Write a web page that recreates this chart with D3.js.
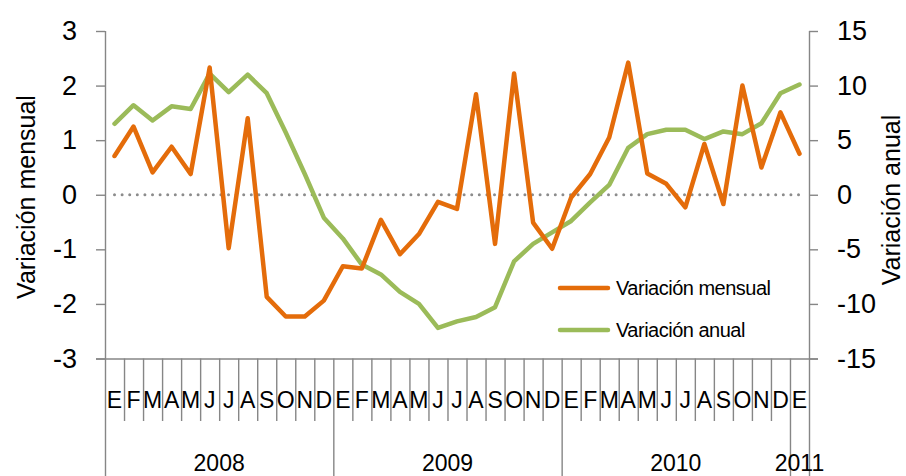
<!DOCTYPE html>
<html>
<head>
<meta charset="utf-8">
<script src="https://cdn.jsdelivr.net/npm/d3@7"></script>
<style>
  body { margin: 0; background: #fff; }
  svg { display: block; font-family: "Liberation Sans", Arial, sans-serif; }
</style>
</head>
<body>
<svg width="906" height="476"></svg>
<script>
// month initials, years and the two series (Jan 2008 - Jan 2011)
const monthLabels = ["E","F","M","A","M","J","J","A","S","O","N","D",
                     "E","F","M","A","M","J","J","A","S","O","N","D",
                     "E","F","M","A","M","J","J","A","S","O","N","D","E"];
const years = [
  {label: "2008", from: 0, to: 11},
  {label: "2009", from: 12, to: 23},
  {label: "2010", from: 24, to: 35},
  {label: "2011", from: 36, to: 36}
];
const mensual = [0.71, 1.25, 0.41, 0.88, 0.38, 2.33, -0.98, 1.40, -1.87, -2.23, -2.23, -1.94,
                 -1.31, -1.35, -0.46, -1.09, -0.72, -0.13, -0.26, 1.84, -0.90, 2.22, -0.51, -0.99,
                 -0.05, 0.38, 1.05, 2.42, 0.39, 0.20, -0.23, 0.93, -0.17, 2.00, 0.50, 1.51, 0.75];
const anual = [6.5, 8.2, 6.8, 8.1, 7.85, 11.1, 9.4, 11.0, 9.3, 5.7, 1.9, -2.1,
               -4.0, -6.4, -7.3, -8.9, -10.0, -12.2, -11.6, -11.2, -10.3, -6.1, -4.5, -3.45,
               -2.4, -0.7, 0.9, 4.3, 5.55, 5.95, 5.95, 5.1, 5.8, 5.55, 6.55, 9.3, 10.1];
const leftTicks = [-3, -2, -1, 0, 1, 2, 3];
const rightTicks = [-15, -10, -5, 0, 5, 10, 15];

const svg = d3.select("svg");
const axisColor = "#868686";
const orange = "#E46C0A";
const green = "#9BBB59";

const plotLeft = 105, plotRight = 809, plotTop = 31, plotBottom = 358.5;

const idx = d3.range(monthLabels.length);
const x = d3.scaleBand().domain(idx).range([plotLeft, plotRight]).padding(0);
const cx = i => x(i) + x.bandwidth() / 2;
const yL = d3.scaleLinear().domain([-3, 3]).range([plotBottom, plotTop]);
const yR = d3.scaleLinear().domain([-15, 15]).range([plotBottom, plotTop]);

/*y axes*/
const gL = svg.append("g").attr("transform", `translate(${plotLeft},0)`)
  .call(d3.axisLeft(yL).tickValues(leftTicks).tickFormat(d => String(d))
    .tickSize(9).tickPadding(19).tickSizeOuter(0));
const gR = svg.append("g").attr("transform", `translate(${plotRight},0)`)
  .call(d3.axisRight(yR).tickValues(rightTicks).tickFormat(d => String(d))
    .tickSize(9).tickPadding(19).tickSizeOuter(0));
[gL, gR].forEach(g => {
  g.selectAll("path, line").attr("stroke", axisColor).attr("stroke-width", 1.4);
  g.selectAll("text").attr("font-size", 27).attr("fill", "#000")
    .attr("font-family", "Liberation Sans, Arial, sans-serif");
});
gL.select(".domain").attr("d", `M0.5,${plotTop}V476`);
gR.select(".domain").attr("d", `M0.5,${plotTop}V476`);

/*category axis*/
const cat = svg.append("g");
cat.append("line")
  .attr("x1", plotLeft - 9).attr("x2", plotRight + 9)
  .attr("y1", plotBottom + 0.5).attr("y2", plotBottom + 0.5)
  .attr("stroke", axisColor).attr("stroke-width", 1.4);

const yearStarts = years.map(d => d.from);
cat.selectAll(".mtick")
  .data(idx.filter(i => i > 0))
  .join("line")
  .attr("x1", i => x(i) + 0.5).attr("x2", i => x(i) + 0.5)
  .attr("y1", plotBottom)
  .attr("y2", i => yearStarts.includes(i) ? 476 : 421)
  .attr("stroke", axisColor).attr("stroke-width", 1.4);

cat.selectAll(".mlabel")
  .data(idx)
  .join("text")
  .attr("x", i => cx(i))
  .attr("y", 400)
  .attr("text-anchor", "middle")
  .attr("dominant-baseline", "central")
  .attr("font-size", 23)
  .text(i => monthLabels[i]);

cat.selectAll(".ylabel")
  .data(years)
  .join("text")
  .attr("x", d => (x(d.from) + x(d.to) + x.bandwidth()) / 2)
  .attr("y", 463)
  .attr("text-anchor", "middle")
  .attr("dominant-baseline", "central")
  .attr("font-size", 23)
  .text(d => d.label);

/*axis titles*/
svg.append("text")
  .attr("transform", "translate(26,197) rotate(-90)")
  .attr("text-anchor", "middle")
  .attr("dominant-baseline", "central")
  .attr("font-size", 25)
  .text("Variación mensual");
svg.append("text")
  .attr("transform", "translate(891,200) rotate(-90)")
  .attr("text-anchor", "middle")
  .attr("dominant-baseline", "central")
  .attr("font-size", 25)
  .text("Variación anual");

/*zero reference line*/
const zeroLine = d3.line().x(i => cx(i)).y(() => yL(0));
svg.append("path")
  .attr("d", zeroLine(idx))
  .attr("fill", "none")
  .attr("stroke", "#8c8c8c")
  .attr("stroke-width", 3)
  .attr("stroke-linecap", "round")
  .attr("stroke-dasharray", "0,7.6");

/*series*/
const lineL = d3.line().x(i => cx(i)).y(i => yL(mensual[i]));
const lineR = d3.line().x(i => cx(i)).y(i => yR(anual[i]));
svg.append("path").attr("d", lineR(idx))
  .attr("fill", "none").attr("stroke", green).attr("stroke-width", 4.5)
  .attr("stroke-linejoin", "round").attr("stroke-linecap", "round");
svg.append("path").attr("d", lineL(idx))
  .attr("fill", "none").attr("stroke", orange).attr("stroke-width", 4.5)
  .attr("stroke-linejoin", "round").attr("stroke-linecap", "round");

/*legend*/
const legend = svg.append("g").attr("transform", "translate(560,0)");
[["Variación mensual", orange, 288], ["Variación anual", green, 330]].forEach(d => {
  legend.append("line").attr("x1", 0).attr("x2", 48).attr("y1", d[2]).attr("y2", d[2])
    .attr("stroke", d[1]).attr("stroke-width", 4.5).attr("stroke-linecap", "round");
  legend.append("text").attr("x", 56).attr("y", d[2])
    .attr("dominant-baseline", "central")
    .attr("font-size", 20).attr("letter-spacing", -0.5)
    .text(d[0]);
});
</script>
</body>
</html>
